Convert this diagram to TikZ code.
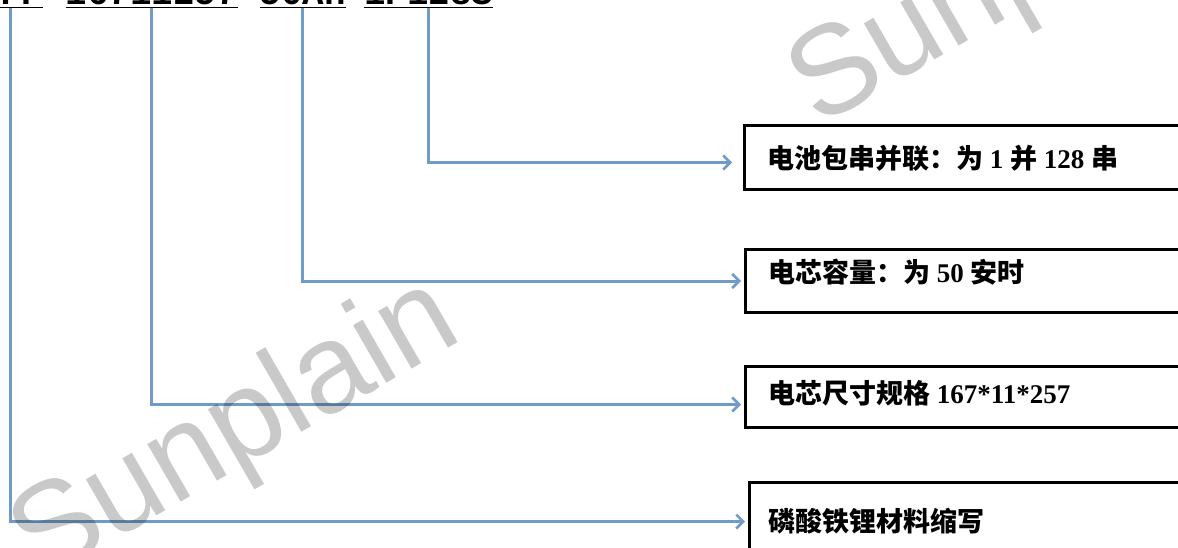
\documentclass[tikz,border=0pt]{standalone}
\usepackage{fontspec}
\setmainfont{Liberation Serif}
\newfontfamily\cjkfont{Noto Sans CJK SC}
\newfontfamily\codefont{Liberation Mono}
\newfontfamily\wmfont{Liberation Sans}
\usetikzlibrary{arrows.meta}
\definecolor{linkblue}{RGB}{112,155,200}
\newcommand\myzh[1]{{\cjkfont\bfseries #1}}
\begin{document}
\begin{tikzpicture}[x=1pt,y=-1pt,
  code/.style={font=\codefont\bfseries\fontsize{35.8}{40}\selectfont, inner sep=0pt, anchor=base west, text height=26pt, text depth=3pt},
  uline/.style={line width=1.5pt, black},
  link/.style={linkblue, line width=3pt, -{Straight Barb[length=7pt,width=14pt,line width=2.5pt]}},
  infobox/.style={draw=black, line width=3pt, rectangle, inner sep=0pt, anchor=north west, minimum width=520pt},
  boxtext/.style={anchor=base west, inner sep=0pt, font=\fontsize{27}{30}\selectfont\bfseries},
  watermark/.style={font=\wmfont\fontsize{126}{126}\selectfont, text=black, text opacity=0.21, rotate=30, inner sep=0pt, anchor=base west}
]
\useasboundingbox (0,0) rectangle (1178,547);
% code groups
\node[code] (g1) at (-21.5,4.5) {LFP};
\node[code] (g2) at (65.5,4.5) {16711257};
\node[code] (g3) at (259.5,4.5) {50Ah};
\node[code] (g4) at (364,4.5) {1P128S};
\foreach \g in {g1,g2,g3,g4} \draw[uline] (\g.south west) -- (\g.south east);
% boxes
\node[infobox, minimum height=64pt] (b1) at (743,124) {};
\node[infobox, minimum height=63pt] (b2) at (744,248) {};
\node[infobox, minimum height=61pt] (b3) at (744,365) {};
\node[infobox, minimum height=70pt] (b4) at (748,481) {};
% box texts
\node[boxtext] (t1) at (767,168) {\myzh{电池包串并联：为}~1~\myzh{并}~128~\myzh{串}};
\node[boxtext] (t2) at (768,282) {\myzh{电芯容量：为}~50~\myzh{安时}};
\node[boxtext] (t3) at (768,403) {\myzh{电芯尺寸规格}~167*11*257};
\node[boxtext] (t4) at (768,531) {\myzh{磷酸铁锂材料缩写}};
% connectors
\draw[link, shorten >=11pt] (g4.south) |- ([yshift=-5pt]b1.west);
\draw[link, shorten >=3pt] (g3.south) |- (b2.west);
\draw[link, shorten >=3pt] (g2.south) |- ([yshift=-7.5pt]b3.west);
\draw[link, shorten >=3pt] (g1.south) |- ([yshift=-4pt]b4.west);
% watermarks
\node[watermark] (w1) at (40,584) {Sunplain};
\node[watermark] (w2) at (818,128) {Sunplain};
\end{tikzpicture}
\end{document}
